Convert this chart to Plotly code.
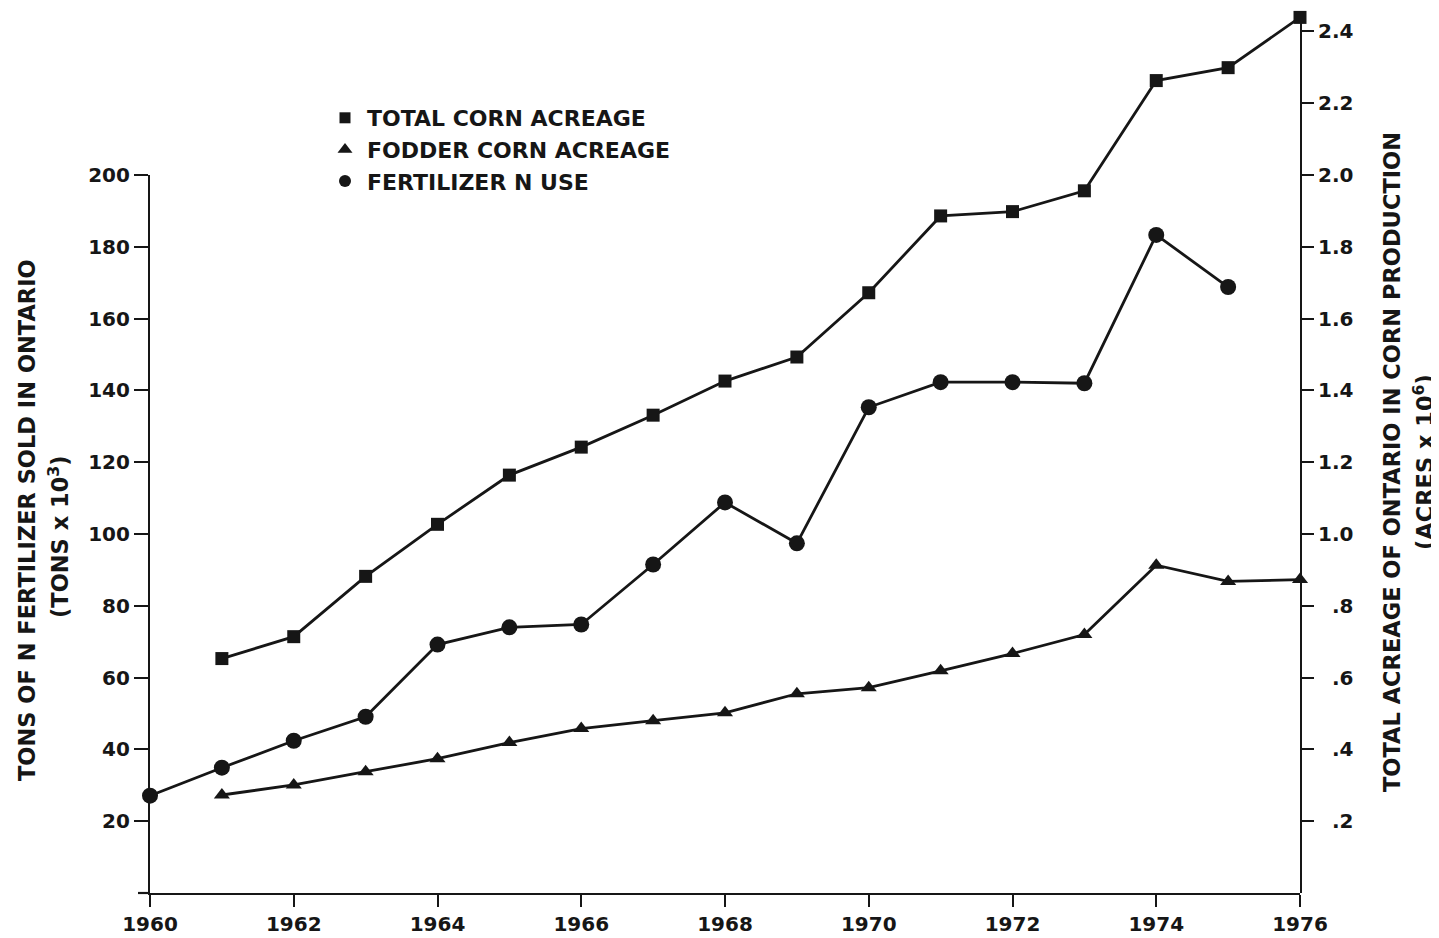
import plotly.graph_objects as go

# ---- data ----
years_total = list(range(1961, 1977))
total_corn_acreage = [0.653, 0.714, 0.882, 1.027, 1.164, 1.242, 1.331, 1.426, 1.493,
                      1.672, 1.886, 1.898, 1.956, 2.263, 2.299, 2.439]   # acres x 10^6

years_fodder = list(range(1961, 1977))
fodder_corn_acreage = [0.273, 0.301, 0.338, 0.374, 0.419, 0.458, 0.480, 0.502, 0.555,
                       0.572, 0.619, 0.667, 0.720, 0.913, 0.868, 0.873]  # acres x 10^6

years_fert = list(range(1960, 1976))
fertilizer_n = [27.1, 34.9, 42.4, 49.1, 69.2, 74.0, 74.8, 91.5, 108.8, 97.4,
                135.3, 142.3, 142.3, 142.0, 183.3, 168.8]                # tons x 10^3

x_ticks = list(range(1960, 1977, 2))
left_ticks = list(range(20, 201, 20))
right_ticks = [0.2, 0.4, 0.6, 0.8, 1.0, 1.2, 1.4, 1.6, 1.8, 2.0, 2.2, 2.4]
right_tick_text = [".2", ".4", ".6", ".8", "1.0", "1.2", "1.4", "1.6", "1.8", "2.0", "2.2", "2.4"]

INK = "#161616"
FONT = "DejaVu Sans"
NB = "\u00a0\u00a0"
right_tick_text = [(NB + t) if t.startswith(".") else t for t in right_tick_text]

fig = go.Figure()

line_style = dict(color=INK, width=2.8)

fig.add_trace(go.Scatter(x=years_total, y=total_corn_acreage, yaxis="y2",
                         mode="lines+markers", line=line_style,
                         marker=dict(symbol="square", size=13, color=INK),
                         cliponaxis=False, showlegend=False))
fig.add_trace(go.Scatter(x=years_fodder, y=fodder_corn_acreage, yaxis="y2",
                         mode="lines+markers", line=line_style,
                         marker=dict(symbol="triangle-up", size=14, color=INK),
                         cliponaxis=False, showlegend=False))
fig.add_trace(go.Scatter(x=years_fert, y=fertilizer_n, yaxis="y",
                         mode="lines+markers", line=line_style,
                         marker=dict(symbol="circle", size=16, color=INK),
                         cliponaxis=False, showlegend=False))

# legend-only entries (markers only, as in the reference key)
fig.add_trace(go.Scatter(x=[None], y=[None], mode="markers", name="TOTAL CORN ACREAGE",
                         marker=dict(symbol="square", size=11, color=INK)))
fig.add_trace(go.Scatter(x=[None], y=[None], mode="markers", name="FODDER CORN ACREAGE",
                         marker=dict(symbol="triangle-up", size=13, color=INK)))
fig.add_trace(go.Scatter(x=[None], y=[None], mode="markers", name="FERTILIZER N USE",
                         marker=dict(symbol="circle", size=12, color=INK)))

plot_h = 878
px_per_unit = 359.0
tick_font = dict(family=FONT, size=20, color=INK, weight="bold")

fig.update_layout(
    width=1439, height=938,
    margin=dict(l=142, r=147, t=7, b=53),
    paper_bgcolor="white", plot_bgcolor="rgba(0,0,0,0)",
    font=dict(family=FONT, color=INK),
    xaxis=dict(range=[1960, 1976], tickvals=x_ticks, ticks="outside", ticklen=12,
               tickwidth=2.2, tickcolor=INK, showline=True, linewidth=2.2, linecolor=INK,
               showgrid=False, zeroline=False, tickfont=tick_font, anchor="y",
               automargin=False),
    yaxis=dict(domain=[0, 200 * px_per_unit / 100 / plot_h], range=[0, 200],
               tickvals=left_ticks, ticks="outside", ticklen=14, tickwidth=2.2,
               tickcolor=INK, showline=True, linewidth=2.2, linecolor=INK,
               showgrid=False, zeroline=False, tickfont=tick_font, anchor="x",
               automargin=False),
    yaxis2=dict(domain=[0, 1], range=[0, plot_h / px_per_unit], side="right", anchor="x",
                tickvals=right_ticks, ticktext=right_tick_text, ticks="outside",
                ticklen=12, tickwidth=2.2, tickcolor=INK, showline=True, linewidth=2.2,
                linecolor=INK, showgrid=False, zeroline=False, tickfont=tick_font,
                automargin=False),
    legend=dict(x=(323 - 150) / 1150, y=(893 - 97) / plot_h, xanchor="left", yanchor="top",
                font=dict(family=FONT, size=22, color=INK, weight="bold"),
                bgcolor="rgba(0,0,0,0)", borderwidth=0, itemwidth=34,
                tracegroupgap=0),
)

# short extension of the baseline to the left of the vertical axis, as in the reference
fig.add_shape(type="line", xref="paper", yref="paper", x0=-12 / 1150, x1=0, y0=0, y1=0,
              line=dict(color=INK, width=2.2))

title_font = dict(family=FONT, size=22.5, color=INK, weight="bold")

def px_x(p):
    return (p - 150) / 1150

def px_y(p):
    return (893 - p) / plot_h

fig.add_annotation(text="TONS OF N FERTILIZER SOLD IN ONTARIO", xref="paper", yref="paper",
                   x=px_x(27), y=px_y(520), textangle=-90, showarrow=False,
                   xanchor="center", yanchor="middle", font=title_font)
fig.add_annotation(text="(TONS x 10<sup>3</sup>)", xref="paper", yref="paper",
                   x=px_x(58), y=px_y(537), textangle=-90, showarrow=False,
                   xanchor="center", yanchor="middle", font=title_font)
fig.add_annotation(text="TOTAL ACREAGE OF ONTARIO IN CORN PRODUCTION", xref="paper", yref="paper",
                   x=px_x(1392), y=px_y(462), textangle=-90, showarrow=False,
                   xanchor="center", yanchor="middle", font=title_font)
fig.add_annotation(text="(ACRES x 10<sup>6</sup>)", xref="paper", yref="paper",
                   x=px_x(1423), y=px_y(462), textangle=-90, showarrow=False,
                   xanchor="center", yanchor="middle", font=title_font)

fig.write_html("out.html")
